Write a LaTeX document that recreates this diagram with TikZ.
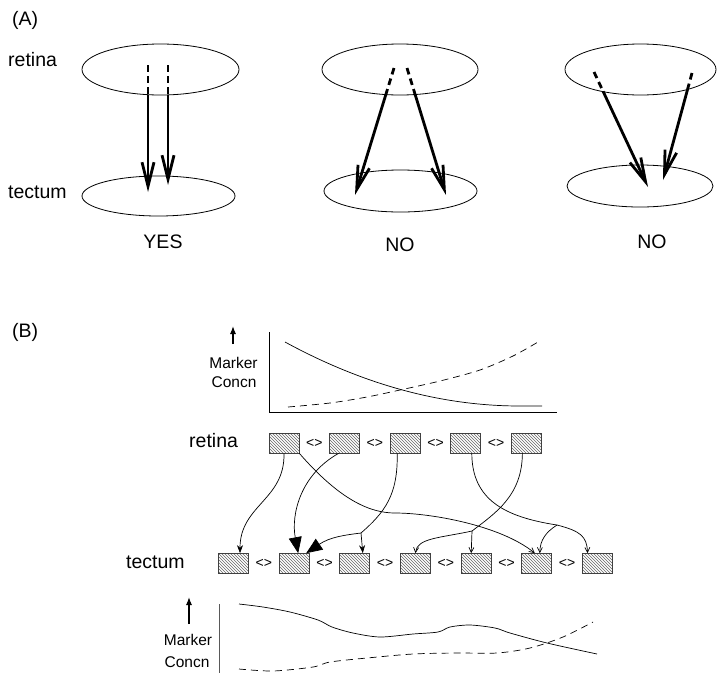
\documentclass[tikz,border=0pt]{standalone}
\usepackage{fontspec}
\setmainfont{Liberation Sans}
\usetikzlibrary{shapes.geometric,arrows.meta,patterns,calc}

\begin{document}
\begin{tikzpicture}
	[x=1pt,y=-1pt,
	big/.style={font=\fontsize{19.5}{22}\selectfont,inner sep=0pt},
	small/.style={font=\fontsize{15.5}{18}\selectfont,inner sep=0pt},
	sheet/.style={ellipse,draw,line width=.8pt,inner sep=0pt},
	axon/.style={line width=2.8pt,-{Straight Barb[length=24pt,width=12pt]}},
	axonin/.style={line width=2.8pt,dash pattern=on 6.7pt off 4.3pt},
	cell/.style={draw=black!75,line width=.7pt,pattern=north west lines,pattern color=black!60,
		minimum width=30pt,minimum height=20pt,inner sep=0pt},
	link/.style={font=\fontsize{14}{16}\selectfont,inner sep=0pt},
	fibre/.style={line width=.7pt},
	thin tip/.style={-{Stealth[length=8pt,width=6pt]}},
	open tip/.style={-{Straight Barb[length=5pt,width=5pt]}},
	fat tip/.style={-{Triangle[length=16pt,width=13pt]}},
	up/.style={line width=1.1pt,-{Latex[length=8pt,width=6pt]}},
	]
	\useasboundingbox (0,0) rectangle (717,683);

	\node[big,anchor=base west] (A) at (12,25) {(A)};
	\node[big,anchor=base west] (retinaA) at (8,66) {retina};
	\node[big,anchor=base west] (tectumA) at (8,198) {tectum};

	\node[sheet,minimum width=157,minimum height=51] (retYes) at (160.5,69.5) {};
	\node[sheet,minimum width=153,minimum height=40] (tecYes) at (158.5,196) {};
	\node[sheet,minimum width=156,minimum height=51] (retNo) at (400,69.5) {};
	\node[sheet,minimum width=153,minimum height=42] (tecNo) at (400.5,191) {};
	\node[sheet,minimum width=151,minimum height=51] (retNoo) at (640.5,69.5) {};
	\node[sheet,minimum width=146,minimum height=42] (tecNoo) at (640,186) {};

	\node[big,anchor=base] (yes) at (163,248) {YES};
	\node[big,anchor=base] (no) at (400,251) {NO};
	\node[big,anchor=base] (noo) at (652,248) {NO};

	\coordinate (y1a) at (148,65);
	\coordinate (y1b) at (148,192);
	\coordinate (y2a) at (168,65);
	\coordinate (y2b) at (168,185);
	\coordinate (n1a) at (394,68);
	\coordinate (n1b) at (355,195);
	\coordinate (n2a) at (407,68);
	\coordinate (n2b) at (446,195);
	\coordinate (m1a) at (594,72);
	\coordinate (m1b) at (648,187);
	\coordinate (m2a) at (692,73);
	\coordinate (m2b) at (663,180);

	\draw[axonin] (y1a) -- ($(y1a)!.234!(y1b)$);
	\draw[axon] ($(y1a)!.234!(y1b)$) -- (y1b);
	\draw[axonin] (y2a) -- ($(y2a)!.249!(y2b)$);
	\draw[axon] ($(y2a)!.249!(y2b)$) -- (y2b);
	\draw[axonin] (n1a) -- ($(n1a)!.209!(n1b)$);
	\draw[axon] ($(n1a)!.209!(n1b)$) -- (n1b);
	\draw[axonin] (n2a) -- ($(n2a)!.209!(n2b)$);
	\draw[axon] ($(n2a)!.209!(n2b)$) -- (n2b);
	\draw[axonin] (m1a) -- ($(m1a)!.168!(m1b)$);
	\draw[axon] ($(m1a)!.168!(m1b)$) -- (m1b);
	\draw[axonin] (m2a) -- ($(m2a)!.158!(m2b)$);
	\draw[axon] ($(m2a)!.158!(m2b)$) -- (m2b);

	\node[big,anchor=base west] (B) at (12,337) {(B)};

	\draw[up] (233,344) -- (233,326);
	\node[small,anchor=base] (marker1) at (233.5,368) {Marker};
	\node[small,anchor=base] (concn1) at (234,387) {Concn};
	\draw[line width=.8pt] (269,332) -- (269,412) -- (557,412);
	\draw[fibre] plot[domain=285:520,samples=40] (\x,{406-64*((520-\x)/235)^2}) -- (542,406);
	\draw[fibre,dash pattern=on 7pt off 5pt] plot[smooth] coordinates
		{(288,407) (330,403) (367,397) (400,390) (440,381) (480,370) (513,356) (538,342)};

	\node[big,anchor=base west] (retinaB) at (189,447) {retina};
	\node[cell] (R1) at (284,443) {};
	\node[cell] (R2) at (344.6,443) {};
	\node[cell] (R3) at (405.2,443) {};
	\node[cell] (R4) at (465.8,443) {};
	\node[cell] (R5) at (526.4,443) {};
	\node[link] at ($(R1)!.5!(R2)$) {<>};
	\node[link] at ($(R2)!.5!(R3)$) {<>};
	\node[link] at ($(R3)!.5!(R4)$) {<>};
	\node[link] at ($(R4)!.5!(R5)$) {<>};

	\node[big,anchor=base west] (tectumB) at (126,568) {tectum};
	\node[cell] (T1) at (233.5,563.5) {};
	\node[cell] (T2) at (294.2,563.5) {};
	\node[cell] (T3) at (354.8,563.5) {};
	\node[cell] (T4) at (415.5,563.5) {};
	\node[cell] (T5) at (476.2,563.5) {};
	\node[cell] (T6) at (536.8,563.5) {};
	\node[cell] (T7) at (597.5,563.5) {};
	\node[link] at ($(T1)!.5!(T2)$) {<>};
	\node[link] at ($(T2)!.5!(T3)$) {<>};
	\node[link] at ($(T3)!.5!(T4)$) {<>};
	\node[link] at ($(T4)!.5!(T5)$) {<>};
	\node[link] at ($(T5)!.5!(T6)$) {<>};
	\node[link] at ($(T6)!.5!(T7)$) {<>};

	\coordinate (b3) at (361,533);
	\coordinate (b4) at (557,525);
	\coordinate (b5) at (472,531);
	\draw[fibre,thin tip] (R1.south) .. controls (285,500) and (240,505) .. ([xshift=6.5]T1.north);
	\draw[fibre,open tip] (R1.south east) .. controls (340,500) and (370,513) .. (395,513)
		.. controls (430,513) and (500,525) .. ([xshift=-2]T6.north);
	\draw[fibre,fat tip] ([xshift=-6]R2.south) .. controls (300,475) and (291,515) .. ([xshift=4]T2.north);
	\draw[fibre] ([xshift=-8]R3.south) .. controls (398,495) and (385,512) .. (b3);
	\draw[fibre,thin tip] (b3) -- ([xshift=8]T3.north);
	\draw[fibre,fat tip] (b3) .. controls (345,535) and (330,537) .. ([xshift=12]T2.north);
	\draw[fibre] ([xshift=6]R4.south) .. controls (472,500) and (505,517) .. (b4);
	\draw[fibre,open tip] (b4) .. controls (580,531) and (587,536) .. ([xshift=-10]T7.north);
	\draw[fibre,open tip] (b4) .. controls (546,532) and (540,540) .. ([xshift=3]T6.north);
	\draw[fibre] ([xshift=-4]R5.south) .. controls (522,495) and (497,512) .. (b5);
	\draw[fibre,open tip] (b5) .. controls (440,538) and (417,538) .. (T4.north);
	\draw[fibre,open tip] (b5) -- ([xshift=-5]T5.north);

	\draw[up] (189,624) -- (189,597);
	\node[small,anchor=base] (marker2) at (188,645) {Marker};
	\node[small,anchor=base] (concn2) at (187,667) {Concn};
	\draw[line width=1pt,black!65] (219,604) -- (219,673);
	\draw[fibre] plot[smooth] coordinates
		{(239,604) (263,607) (290,612) (318,620) (332,627) (353,633) (380,637) (413,634) (438,632)
		(450,627) (470,625) (495,628) (510,633) (547,643) (597,654)};
	\draw[fibre,dash pattern=on 7pt off 5pt] plot[smooth] coordinates
		{(239,669) (273,671) (313,667) (330,662) (367,658) (413,654) (457,653) (497,653) (530,648)
		(563,637) (593,622)};
\end{tikzpicture}
\end{document}
